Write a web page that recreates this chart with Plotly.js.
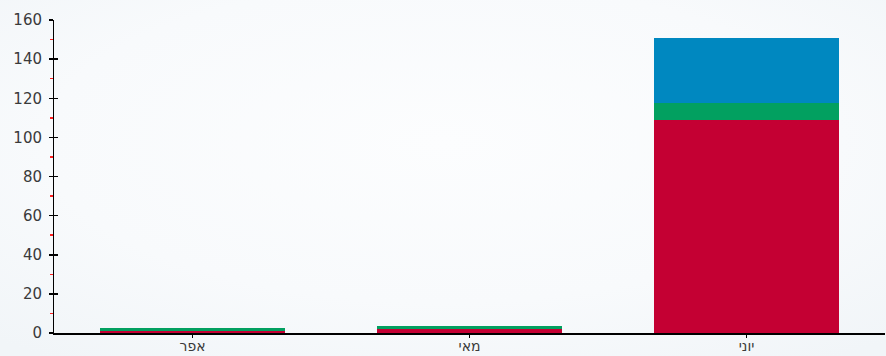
<!DOCTYPE html>
<html>
<head>
<meta charset="utf-8">
<script src="https://cdn.plot.ly/plotly-3.0.1.min.js"></script>
<style>html,body{margin:0;padding:0;background:#f5f8fb;}#chart{width:886px;height:356px;}</style>
</head>
<body>
<div id="chart"></div>
<script>
// Data
var months = ['אפר', 'מאי', 'יוני'];
var redValues = [1, 1.8, 109];
var greenValues = [1.8, 2, 8.5];
var blueValues = [0, 0, 33.5];
var yTicks = [0, 20, 40, 60, 80, 100, 120, 140, 160];

var bgSvg = '<svg xmlns="http://www.w3.org/2000/svg" width="886" height="356">' +
  '<defs><radialGradient id="g" cx="0.5" cy="0.4" r="0.75">' +
  '<stop offset="0" stop-color="#fcfdfe"/><stop offset="0.6" stop-color="#f8fafc"/><stop offset="1" stop-color="#f1f5f8"/>' +
  '</radialGradient></defs><rect width="886" height="356" fill="url(#g)"/></svg>';
var bgUri = 'data:image/svg+xml;base64,' + btoa(bgSvg);

var common = {type: 'bar', x: months, width: 0.67, hoverinfo: 'skip'};
var traces = [
  Object.assign({}, common, {y: redValues, marker: {color: '#c40033'}, name: 'red'}),
  Object.assign({}, common, {y: greenValues, marker: {color: '#02a060'}, name: 'green'}),
  Object.assign({}, common, {y: blueValues, marker: {color: '#0088c0'}, name: 'blue'}),
  // invisible trace on overlay axis to draw inner tick halves
  {type: 'scatter', x: [months[0]], y: [0], yaxis: 'y2', mode: 'none', showlegend: false, hoverinfo: 'skip'}
];

var font = {family: 'DejaVu Sans, sans-serif', size: 15, color: '#3a3a3a'};
var xfont = {family: 'DejaVu Sans, sans-serif', size: 14, color: '#3a3a3a'};

var layout = {
  width: 886, height: 356,
  margin: {l: 54, r: 1, t: 20, b: 23},
  paper_bgcolor: 'rgba(0,0,0,0)',
  plot_bgcolor: 'rgba(0,0,0,0)',
  barmode: 'stack',
  bargap: 0.33,
  showlegend: false,
  font: font,
  xaxis: {
    showline: true, linecolor: '#000', linewidth: 1.5,
    ticks: 'outside', ticklen: 3, tickcolor: '#000', tickwidth: 1,
    tickfont: xfont, ticklabelstandoff: -3,
    showgrid: false, zeroline: false, fixedrange: true
  },
  yaxis: {
    range: [0, 160], tickvals: yTicks,
    showline: true, linecolor: '#000', linewidth: 1,
    ticks: 'outside', ticklen: 4, tickcolor: '#000', tickwidth: 1.5,
    tickfont: font, ticklabelstandoff: 4,
    showgrid: false, zeroline: false, fixedrange: true,
    minor: {dtick: 10, tick0: 0, ticks: 'outside', ticklen: 3, tickcolor: '#ff2020', tickwidth: 1.5, showgrid: false}
  },
  yaxis2: {
    overlaying: 'y', side: 'left', range: [0, 160], tickvals: yTicks,
    ticks: 'inside', ticklen: 4, tickcolor: '#000', tickwidth: 1.5,
    showticklabels: false, showgrid: false, zeroline: false, showline: false, fixedrange: true
  },
  images: [{source: bgUri, xref: 'paper', yref: 'paper', x: -54/831, y: 1 + 20/313, sizex: 886/831, sizey: 356/313,
            sizing: 'stretch', xanchor: 'left', yanchor: 'top', layer: 'below'}]
};

Plotly.newPlot('chart', traces, layout, {displayModeBar: false, staticPlot: true});
</script>
</body>
</html>
